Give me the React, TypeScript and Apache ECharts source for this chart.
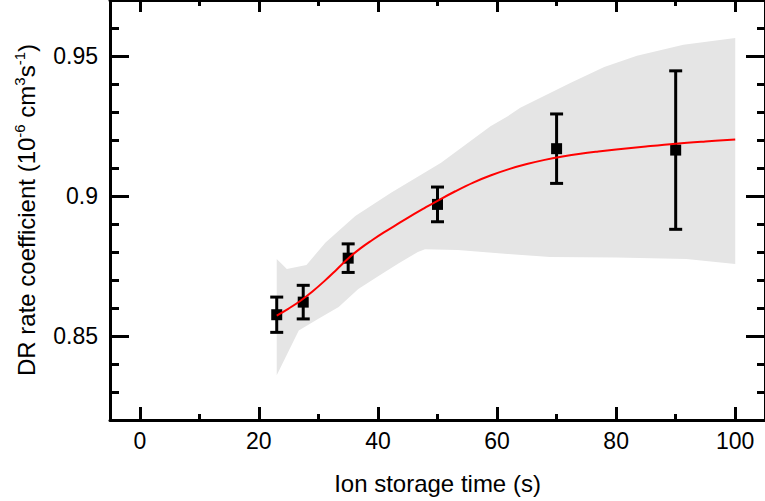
import React, { useEffect, useRef } from "react";
import * as echarts from "echarts";

// ---- data ----
const pointT = [23, 27.45, 35, 50, 70, 90];
const pointV = [0.8576, 0.8621, 0.8778, 0.897, 0.9169, 0.9164];
const pointErr = [0.0063, 0.006, 0.0051, 0.0062, 0.0124, 0.0283];

const curveT = [23, 25, 27, 29, 31, 33, 35, 37, 39, 41, 43, 45, 48, 50, 53, 56, 59, 62, 65, 68, 71, 74, 77, 80, 85, 90, 95, 100];
const curveV = [0.8573, 0.8598, 0.8626, 0.8659, 0.8696, 0.8736, 0.8777, 0.8812, 0.8842, 0.887, 0.8896, 0.8922, 0.8959, 0.8983, 0.9017, 0.9048, 0.9074, 0.9096, 0.9114, 0.9129, 0.9141, 0.9151, 0.9159, 0.9166, 0.9177, 0.9187, 0.9195, 0.9202];

const bandUpperT = [23, 24.7, 28, 31.2, 36.2, 42.2, 50.6, 58.9, 61.8, 63.9, 72.3, 78, 83.5, 91.3, 100];
const bandUpperV = [0.8775, 0.8739, 0.8754, 0.8834, 0.8929, 0.9012, 0.9119, 0.9249, 0.9285, 0.9315, 0.9404, 0.9461, 0.9501, 0.954, 0.9564];
const bandLowerT = [23, 26.7, 30, 33.4, 36.7, 40.1, 43.5, 46.7, 47.9, 53.4, 61.8, 68.9, 80, 91.8, 100];
const bandLowerV = [0.836, 0.852, 0.8562, 0.8604, 0.8668, 0.8714, 0.876, 0.88, 0.881, 0.8807, 0.8793, 0.8782, 0.878, 0.8775, 0.8757];

const xMajorTicks = [0, 20, 40, 60, 80, 100];
const xMinorTicks = [10, 30, 50, 70, 90];
const yMajorTicks = [0.85, 0.9, 0.95];
const yMinorTicks = [0.83, 0.84, 0.86, 0.87, 0.88, 0.89, 0.91, 0.92, 0.93, 0.94, 0.96];

const xName = "Ion storage time (s)";
const X_MIN = -5, X_MAX = 105, Y_MIN = 0.82, Y_MAX = 0.97;

const FONT = "'Liberation Sans', Arial, Helvetica, sans-serif";

export default function App() {
  const ref = useRef<HTMLDivElement>(null);

  useEffect(() => {
    document.body.style.margin = "0";
    if (!ref.current) return;
    const chart = echarts.init(ref.current, null, { renderer: "svg" });

    const lineStyle = { color: "#000", width: 3 };
    const mkX = (pos: string, major: boolean, show: boolean, len: number, vals: number[]) => ({
      type: "value",
      position: pos,
      min: X_MIN,
      max: X_MAX,
      splitLine: { show: false },
      axisLine: { show: major, onZero: false, lineStyle },
      axisTick: { show: true, inside: true, length: len, customValues: vals, lineStyle },
      axisLabel: show
        ? { show: true, customValues: vals, fontSize: 23, color: "#000", fontFamily: FONT, margin: 9 }
        : { show: false },
      axisPointer: { show: false },
    });
    const mkY = (pos: string, major: boolean, show: boolean, len: number, vals: number[]) => ({
      type: "value",
      position: pos,
      min: Y_MIN,
      max: Y_MAX,
      splitLine: { show: false },
      axisLine: { show: major, onZero: false, lineStyle },
      axisTick: { show: true, inside: true, length: len, customValues: vals, lineStyle },
      axisLabel: show
        ? {
            show: true,
            customValues: vals,
            fontSize: 23,
            color: "#000",
            fontFamily: FONT,
            margin: 12,
            formatter: (v: number) => String(v),
          }
        : { show: false },
      axisPointer: { show: false },
    });

    const xAxes: any[] = [
      {
        ...mkX("bottom", true, true, 13, xMajorTicks),
        name: xName,
        nameLocation: "middle",
        nameGap: 51,
        nameTextStyle: { fontSize: 24, color: "#000", fontFamily: FONT },
      },
      mkX("bottom", false, false, 6, xMinorTicks),
      mkX("top", true, false, 12, xMajorTicks),
      mkX("top", false, false, 6, xMinorTicks),
    ];
    const yAxes: any[] = [
      {
        ...mkY("left", true, true, 19, yMajorTicks),
        name: "{a|DR rate coefficient (10}{s|-6}{a| cm}{s|3}{a|s}{s|-1}{a|)}",
        nameLocation: "middle",
        nameRotate: 90,
        nameGap: 70,
        nameTextStyle: {
          fontSize: 24,
          color: "#000",
          fontFamily: FONT,
          rich: {
            a: { fontSize: 24, color: "#000", fontFamily: FONT, lineHeight: 28 },
            s: { fontSize: 15, color: "#000", fontFamily: FONT, lineHeight: 15, verticalAlign: "top" },
          },
        },
      },
      mkY("left", false, false, 9, yMinorTicks),
      mkY("right", true, false, 19, yMajorTicks),
      mkY("right", false, false, 8, yMinorTicks),
    ];

    const upperPts = bandUpperT.map((t, i) => [t, bandUpperV[i]]);
    const lowerPts = bandLowerT.map((t, i) => [t, bandLowerV[i]]);

    chart.setOption({
      animation: false,
      grid: { left: 110, top: 0, width: 659, height: 420, containLabel: false },
      xAxis: xAxes,
      yAxis: yAxes,
      series: [
        {
          type: "custom",
          z: 1,
          silent: true,
          clip: true,
          data: [[bandUpperT[0], bandUpperV[0]]],
          renderItem: (params: any, api: any) => {
            const pts = [
              ...upperPts.map((p) => api.coord(p)),
              ...lowerPts.slice().reverse().map((p) => api.coord(p)),
            ];
            return { type: "polygon", shape: { points: pts }, style: { fill: "#e5e5e5", stroke: "none" } };
          },
        },
        {
          type: "custom",
          z: 3,
          silent: true,
          data: pointT.map((t, i) => [t, pointV[i], pointErr[i]]),
          encode: { x: 0, y: 1 },
          renderItem: (params: any, api: any) => {
            const t = api.value(0);
            const v = api.value(1);
            const e = api.value(2);
            const top = api.coord([t, v + e]);
            const bot = api.coord([t, v - e]);
            const hw = 6.5;
            const st = { stroke: "#000", lineWidth: 3 };
            return {
              type: "group",
              children: [
                { type: "line", shape: { x1: top[0], y1: top[1], x2: bot[0], y2: bot[1] }, style: st },
                { type: "line", shape: { x1: top[0] - hw, y1: top[1], x2: top[0] + hw, y2: top[1] }, style: st },
                { type: "line", shape: { x1: bot[0] - hw, y1: bot[1], x2: bot[0] + hw, y2: bot[1] }, style: st },
              ],
            };
          },
        },
        {
          type: "scatter",
          z: 4,
          symbol: "rect",
          symbolSize: 11,
          itemStyle: { color: "#000", opacity: 1 },
          data: pointT.map((t, i) => [t, pointV[i]]),
        },
        {
          type: "line",
          z: 5,
          smooth: 0.4,
          showSymbol: false,
          lineStyle: { color: "#ff0000", width: 2 },
          data: curveT.map((t, i) => [t, curveV[i]]),
        },
      ],
    });
    return () => chart.dispose();
  }, []);

  return <div ref={ref} style={{ width: 765, height: 501 }} />;
}
